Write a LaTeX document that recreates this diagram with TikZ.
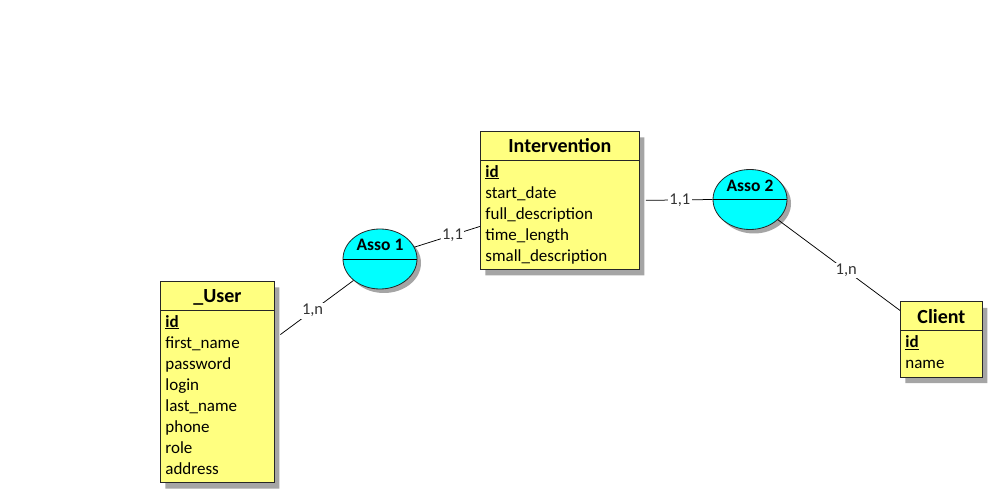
\documentclass[tikz,border=0pt]{standalone}
\usepackage{fontspec}
\setmainfont{Carlito}
\usetikzlibrary{shapes.multipart,shapes.geometric,shadows}

\definecolor{entYellow}{RGB}{255,255,128}
\definecolor{assoCyan}{RGB}{0,255,255}
\definecolor{shadowGray}{RGB}{165,165,165}

\newcommand{\attrstrut}{\rule[-3.5pt]{0pt}{21pt}}
\newcommand{\firststrut}{\rule[-3.5pt]{0pt}{20pt}}
\newcommand{\laststrut}{\rule[-8pt]{0pt}{25.5pt}}
\newcommand{\titlestrut}{\rule[-7pt]{0pt}{28pt}}
\newcommand{\entTitle}[1]{\bfseries\fontsize{20}{24}\selectfont\titlestrut #1}
\newcommand{\entKey}[1]{\firststrut\underline{\textbf{#1}}}

\begin{document}
\begin{tikzpicture}[
    x=1pt, y=-1pt,
    entity/.style={rectangle split, rectangle split parts=2,
        rectangle split part align={center,left},
        draw=black!85, line width=0.8pt, fill=entYellow,
        inner xsep=5pt, inner ysep=0pt, align=left, anchor=north west,
        font=\fontsize{17}{21}\selectfont,
        drop shadow={shadow xshift=5pt, shadow yshift=-6pt, fill=shadowGray, opacity=1}},
    asso/.style={ellipse, draw=black!85, line width=0.8pt, fill=assoCyan,
        minimum width=74pt, minimum height=60pt, inner sep=0pt,
        drop shadow={shadow xshift=4pt, shadow yshift=-4pt, fill=shadowGray, opacity=1}},
    assoname/.style={font=\bfseries\fontsize{17.5}{20}\selectfont, inner sep=0pt},
    link/.style={draw=black, line width=0.75pt},
    card/.style={font=\fontsize{16.5}{19}\selectfont, text=black!80, fill=white, inner sep=1.5pt}
]
\path[use as bounding box] (0,0) rectangle (993,494);

% -- Entities --
\node[entity, minimum width=114pt] (entUser) at (160,281)
    {\entTitle{\_User}\nodepart{two}\entKey{id}\\
     \attrstrut first\_name\\ \attrstrut password\\ \attrstrut login\\
     \attrstrut last\_name\\ \attrstrut phone\\ \attrstrut role\\
     \laststrut address};

\node[entity, minimum width=159pt] (entIntervention) at (480,131)
    {\entTitle{Intervention}\nodepart{two}\entKey{id}\\
     \attrstrut start\_date\\ \attrstrut full\_description\\
     \attrstrut time\_length\\ \laststrut small\_description};

\node[entity, minimum width=82pt] (entClient) at (900,301.5)
    {\entTitle{Client}\nodepart{two}\entKey{id}\\ \laststrut name};

% -- Associations --
\node[asso] (asso1) at (380,259) {};
\draw[link] (asso1.west) -- (asso1.east);
\node[assoname] (asso1_Name) at (380,245) {Asso 1};

\node[asso] (asso2) at (750,199.5) {};
\draw[link] (asso2.west) -- (asso2.east);
\node[assoname] (asso2_Name) at (750,185.5) {Asso 2};

% -- Links with cardinalities --
\draw[link, shorten <=7pt] (entUser.37) -- node[card, pos=0.48] (card_User) {1,n} (asso1.219);
\draw[link] (asso1.19) -- node[card, pos=0.58] (card_Intervention1) {1,1} (entIntervention.198);
\draw[link, shorten <=6pt] (entIntervention.east) -- node[card, pos=0.55] (card_Intervention2) {1,1} (asso2.west);
\draw[link] (asso2.324) -- node[card, pos=0.56] (card_Client) {1,n} (entClient.145);

\end{tikzpicture}
\end{document}
